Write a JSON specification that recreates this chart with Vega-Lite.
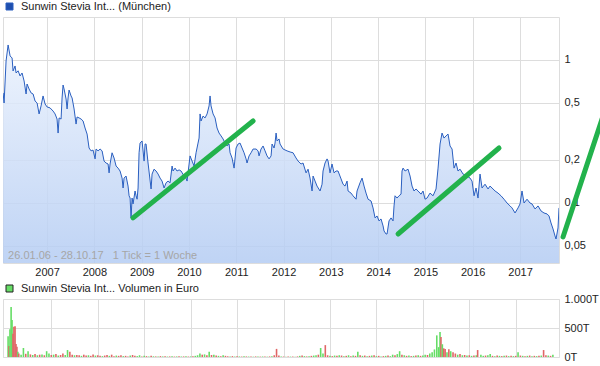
{
"$schema": "https://vega.github.io/schema/vega-lite/v6.json",
"padding": {"left": 2, "top": 0, "right": 0, "bottom": 0},
"background": "white",
"config": {
  "font": "Liberation Sans",
  "view": {"stroke": "#dddddd"},
  "axis": {"gridColor": "#dddddd", "labelFont": "Liberation Sans", "labelFontSize": 11, "labelColor": "#222222", "ticks": false, "domain": false, "title": null},
  "legend": {"labelFont": "Liberation Sans", "labelFontSize": 11, "labelColor": "#222222", "padding": 0, "labelOffset": 6, "symbolSize": 49, "symbolType": "square", "labelLimit": 0}
},
"datasets": {
"price": [
{"t":2006.070,"v":0.588},{"t":2006.091,"v":0.500},{"t":2006.133,"v":0.984},{"t":2006.176,"v":1.274},{"t":2006.218,"v":1.067},{"t":2006.260,"v":1.033},{"t":2006.281,"v":0.838},{"t":2006.323,"v":0.908},{"t":2006.345,"v":0.811},{"t":2006.387,"v":0.840},{"t":2006.429,"v":0.773},{"t":2006.471,"v":0.811},{"t":2006.514,"v":0.713},{"t":2006.556,"v":0.578},{"t":2006.577,"v":0.679},{"t":2006.619,"v":0.627},{"t":2006.662,"v":0.588},{"t":2006.704,"v":0.578},{"t":2006.746,"v":0.516},{"t":2006.789,"v":0.500},{"t":2006.831,"v":0.419},{"t":2006.873,"v":0.477},{"t":2006.915,"v":0.560},{"t":2006.958,"v":0.492},{"t":2007.000,"v":0.469},{"t":2007.063,"v":0.462},{"t":2007.127,"v":0.439},{"t":2007.169,"v":0.419},{"t":2007.211,"v":0.386},{"t":2007.233,"v":0.308},{"t":2007.254,"v":0.393},{"t":2007.296,"v":0.386},{"t":2007.317,"v":0.542},{"t":2007.338,"v":0.668},{"t":2007.359,"v":0.627},{"t":2007.402,"v":0.533},{"t":2007.423,"v":0.454},{"t":2007.444,"v":0.542},{"t":2007.465,"v":0.616},{"t":2007.507,"v":0.560},{"t":2007.529,"v":0.542},{"t":2007.571,"v":0.454},{"t":2007.613,"v":0.356},{"t":2007.634,"v":0.399},{"t":2007.677,"v":0.393},{"t":2007.719,"v":0.386},{"t":2007.761,"v":0.374},{"t":2007.803,"v":0.334},{"t":2007.846,"v":0.303},{"t":2007.888,"v":0.242},{"t":2007.930,"v":0.231},{"t":2007.972,"v":0.234},{"t":2008.015,"v":0.203},{"t":2008.036,"v":0.238},{"t":2008.078,"v":0.231},{"t":2008.121,"v":0.238},{"t":2008.163,"v":0.231},{"t":2008.205,"v":0.196},{"t":2008.247,"v":0.190},{"t":2008.290,"v":0.187},{"t":2008.311,"v":0.162},{"t":2008.332,"v":0.187},{"t":2008.374,"v":0.224},{"t":2008.416,"v":0.206},{"t":2008.459,"v":0.181},{"t":2008.501,"v":0.175},{"t":2008.543,"v":0.167},{"t":2008.586,"v":0.149},{"t":2008.607,"v":0.127},{"t":2008.628,"v":0.149},{"t":2008.670,"v":0.154},{"t":2008.712,"v":0.131},{"t":2008.734,"v":0.112},{"t":2008.755,"v":0.108},{"t":2008.776,"v":0.0784},{"t":2008.797,"v":0.108},{"t":2008.818,"v":0.0982},{"t":2008.860,"v":0.121},{"t":2008.882,"v":0.112},{"t":2008.903,"v":0.106},{"t":2008.924,"v":0.127},{"t":2008.945,"v":0.224},{"t":2008.966,"v":0.262},{"t":2009.008,"v":0.271},{"t":2009.051,"v":0.196},{"t":2009.072,"v":0.258},{"t":2009.093,"v":0.258},{"t":2009.135,"v":0.190},{"t":2009.199,"v":0.125},{"t":2009.220,"v":0.159},{"t":2009.262,"v":0.172},{"t":2009.304,"v":0.167},{"t":2009.347,"v":0.159},{"t":2009.389,"v":0.149},{"t":2009.431,"v":0.142},{"t":2009.474,"v":0.127},{"t":2009.516,"v":0.138},{"t":2009.558,"v":0.142},{"t":2009.600,"v":0.138},{"t":2009.643,"v":0.181},{"t":2009.664,"v":0.167},{"t":2009.706,"v":0.175},{"t":2009.748,"v":0.167},{"t":2009.791,"v":0.170},{"t":2009.833,"v":0.167},{"t":2009.896,"v":0.154},{"t":2009.939,"v":0.149},{"t":2009.960,"v":0.142},{"t":2010.023,"v":0.213},{"t":2010.066,"v":0.196},{"t":2010.108,"v":0.181},{"t":2010.150,"v":0.224},{"t":2010.192,"v":0.262},{"t":2010.214,"v":0.284},{"t":2010.235,"v":0.419},{"t":2010.256,"v":0.374},{"t":2010.298,"v":0.405},{"t":2010.340,"v":0.393},{"t":2010.383,"v":0.419},{"t":2010.425,"v":0.477},{"t":2010.446,"v":0.560},{"t":2010.467,"v":0.477},{"t":2010.510,"v":0.419},{"t":2010.552,"v":0.393},{"t":2010.594,"v":0.334},{"t":2010.636,"v":0.308},{"t":2010.679,"v":0.294},{"t":2010.721,"v":0.280},{"t":2010.763,"v":0.262},{"t":2010.806,"v":0.250},{"t":2010.848,"v":0.258},{"t":2010.869,"v":0.224},{"t":2010.911,"v":0.206},{"t":2010.954,"v":0.175},{"t":2010.996,"v":0.242},{"t":2011.038,"v":0.258},{"t":2011.080,"v":0.262},{"t":2011.123,"v":0.242},{"t":2011.165,"v":0.224},{"t":2011.207,"v":0.203},{"t":2011.228,"v":0.190},{"t":2011.271,"v":0.213},{"t":2011.313,"v":0.224},{"t":2011.355,"v":0.238},{"t":2011.419,"v":0.238},{"t":2011.461,"v":0.231},{"t":2011.482,"v":0.213},{"t":2011.524,"v":0.238},{"t":2011.567,"v":0.250},{"t":2011.609,"v":0.231},{"t":2011.651,"v":0.213},{"t":2011.694,"v":0.203},{"t":2011.736,"v":0.213},{"t":2011.757,"v":0.258},{"t":2011.799,"v":0.242},{"t":2011.820,"v":0.262},{"t":2011.842,"v":0.308},{"t":2011.863,"v":0.271},{"t":2011.905,"v":0.280},{"t":2011.926,"v":0.258},{"t":2011.990,"v":0.238},{"t":2012.074,"v":0.231},{"t":2012.138,"v":0.227},{"t":2012.201,"v":0.224},{"t":2012.264,"v":0.206},{"t":2012.307,"v":0.196},{"t":2012.370,"v":0.187},{"t":2012.412,"v":0.190},{"t":2012.476,"v":0.162},{"t":2012.518,"v":0.172},{"t":2012.560,"v":0.149},{"t":2012.603,"v":0.121},{"t":2012.624,"v":0.154},{"t":2012.666,"v":0.142},{"t":2012.708,"v":0.131},{"t":2012.772,"v":0.121},{"t":2012.814,"v":0.135},{"t":2012.835,"v":0.167},{"t":2012.877,"v":0.190},{"t":2012.920,"v":0.203},{"t":2012.941,"v":0.196},{"t":2012.983,"v":0.162},{"t":2013.025,"v":0.187},{"t":2013.068,"v":0.162},{"t":2013.110,"v":0.167},{"t":2013.152,"v":0.167},{"t":2013.216,"v":0.147},{"t":2013.258,"v":0.135},{"t":2013.300,"v":0.131},{"t":2013.343,"v":0.142},{"t":2013.364,"v":0.121},{"t":2013.427,"v":0.117},{"t":2013.469,"v":0.112},{"t":2013.533,"v":0.106},{"t":2013.554,"v":0.121},{"t":2013.617,"v":0.138},{"t":2013.660,"v":0.149},{"t":2013.702,"v":0.131},{"t":2013.744,"v":0.117},{"t":2013.787,"v":0.106},{"t":2013.850,"v":0.103},{"t":2013.892,"v":0.0921},{"t":2013.935,"v":0.0784},{"t":2013.977,"v":0.0809},{"t":2014.019,"v":0.0747},{"t":2014.061,"v":0.0771},{"t":2014.104,"v":0.0689},{"t":2014.125,"v":0.0635},{"t":2014.167,"v":0.0605},{"t":2014.188,"v":0.0605},{"t":2014.230,"v":0.0747},{"t":2014.273,"v":0.0784},{"t":2014.315,"v":0.0747},{"t":2014.336,"v":0.0951},{"t":2014.357,"v":0.112},{"t":2014.400,"v":0.108},{"t":2014.442,"v":0.112},{"t":2014.484,"v":0.115},{"t":2014.505,"v":0.167},{"t":2014.527,"v":0.175},{"t":2014.569,"v":0.167},{"t":2014.632,"v":0.172},{"t":2014.675,"v":0.154},{"t":2014.717,"v":0.131},{"t":2014.759,"v":0.121},{"t":2014.801,"v":0.125},{"t":2014.844,"v":0.121},{"t":2014.907,"v":0.115},{"t":2014.949,"v":0.121},{"t":2014.992,"v":0.106},{"t":2015.034,"v":0.108},{"t":2015.097,"v":0.117},{"t":2015.161,"v":0.112},{"t":2015.224,"v":0.125},{"t":2015.267,"v":0.175},{"t":2015.309,"v":0.258},{"t":2015.351,"v":0.308},{"t":2015.393,"v":0.284},{"t":2015.436,"v":0.294},{"t":2015.478,"v":0.303},{"t":2015.520,"v":0.250},{"t":2015.563,"v":0.238},{"t":2015.605,"v":0.175},{"t":2015.647,"v":0.190},{"t":2015.689,"v":0.167},{"t":2015.732,"v":0.172},{"t":2015.795,"v":0.159},{"t":2015.880,"v":0.154},{"t":2015.943,"v":0.149},{"t":2015.985,"v":0.142},{"t":2016.028,"v":0.112},{"t":2016.070,"v":0.127},{"t":2016.112,"v":0.108},{"t":2016.154,"v":0.159},{"t":2016.197,"v":0.127},{"t":2016.260,"v":0.135},{"t":2016.324,"v":0.125},{"t":2016.366,"v":0.131},{"t":2016.408,"v":0.127},{"t":2016.472,"v":0.121},{"t":2016.535,"v":0.117},{"t":2016.598,"v":0.112},{"t":2016.662,"v":0.106},{"t":2016.725,"v":0.0997},{"t":2016.789,"v":0.0951},{"t":2016.831,"v":0.0921},{"t":2016.894,"v":0.0849},{"t":2016.958,"v":0.0921},{"t":2017.000,"v":0.0982},{"t":2017.042,"v":0.121},{"t":2017.085,"v":0.0997},{"t":2017.148,"v":0.106},{"t":2017.211,"v":0.0997},{"t":2017.254,"v":0.0982},{"t":2017.317,"v":0.0906},{"t":2017.381,"v":0.0951},{"t":2017.444,"v":0.0877},{"t":2017.507,"v":0.0849},{"t":2017.571,"v":0.0836},{"t":2017.613,"v":0.0809},{"t":2017.655,"v":0.0723},{"t":2017.698,"v":0.0656},{"t":2017.740,"v":0.0586},{"t":2017.761,"v":0.0558},{"t":2017.803,"v":0.0667},{"t":2017.824,"v":0.0921}
],
"trend": [
{"seg":1,"t":2008.818,"v":0.0784},{"seg":1,"t":2011.355,"v":0.374},
{"seg":2,"t":2014.421,"v":0.0605},{"seg":2,"t":2016.556,"v":0.242},
{"seg":3,"t":2017.909,"v":0.0577},{"seg":3,"t":2018.734,"v":0.386}
],
"vol": [
{"t":2006.07,"v":357,"d":"u"},{"t":2006.09,"v":190,"d":"d"},{"t":2006.11,"v":480,"d":"u"},{"t":2006.135,"v":862,"d":"u"},{"t":2006.155,"v":640,"d":"u"},{"t":2006.175,"v":400,"d":"d"},{"t":2006.195,"v":520,"d":"d"},{"t":2006.22,"v":530,"d":"d"},{"t":2006.24,"v":225,"d":"d"},{"t":2006.26,"v":175,"d":"d"},{"t":2006.28,"v":90,"d":"u"},
{"t":2006.30,"v":60,"d":"d"},{"t":2006.35,"v":40,"d":"u"},{"t":2006.40,"v":155,"d":"u"},{"t":2006.45,"v":55,"d":"d"},{"t":2006.50,"v":100,"d":"u"},{"t":2006.55,"v":45,"d":"d"},{"t":2006.60,"v":35,"d":"u"},{"t":2006.65,"v":50,"d":"d"},{"t":2006.70,"v":30,"d":"u"},{"t":2006.75,"v":40,"d":"d"},{"t":2006.80,"v":45,"d":"u"},{"t":2006.85,"v":30,"d":"d"},{"t":2006.90,"v":100,"d":"u"},{"t":2006.95,"v":60,"d":"u"},
{"t":2007.00,"v":35,"d":"d"},{"t":2007.05,"v":40,"d":"u"},{"t":2007.10,"v":50,"d":"d"},{"t":2007.15,"v":25,"d":"u"},{"t":2007.20,"v":35,"d":"d"},{"t":2007.25,"v":60,"d":"d"},{"t":2007.30,"v":35,"d":"u"},{"t":2007.35,"v":120,"d":"u"},{"t":2007.40,"v":90,"d":"d"},{"t":2007.45,"v":40,"d":"d"},{"t":2007.50,"v":30,"d":"u"},{"t":2007.55,"v":35,"d":"d"},{"t":2007.60,"v":30,"d":"d"},{"t":2007.65,"v":20,"d":"u"},{"t":2007.70,"v":40,"d":"d"},{"t":2007.75,"v":25,"d":"d"},{"t":2007.80,"v":30,"d":"u"},{"t":2007.85,"v":20,"d":"d"},{"t":2007.90,"v":45,"d":"d"},{"t":2007.95,"v":25,"d":"u"},
{"t":2008.00,"v":30,"d":"d"},{"t":2008.05,"v":20,"d":"d"},{"t":2008.10,"v":15,"d":"u"},{"t":2008.15,"v":25,"d":"d"},{"t":2008.20,"v":35,"d":"d"},{"t":2008.25,"v":20,"d":"u"},{"t":2008.30,"v":40,"d":"d"},{"t":2008.35,"v":15,"d":"d"},{"t":2008.40,"v":25,"d":"u"},{"t":2008.45,"v":20,"d":"d"},{"t":2008.50,"v":30,"d":"d"},{"t":2008.55,"v":15,"d":"u"},{"t":2008.60,"v":20,"d":"d"},{"t":2008.65,"v":10,"d":"d"},{"t":2008.70,"v":25,"d":"u"},{"t":2008.75,"v":35,"d":"d"},{"t":2008.80,"v":20,"d":"d"},{"t":2008.85,"v":15,"d":"u"},{"t":2008.90,"v":30,"d":"u"},{"t":2008.95,"v":10,"d":"d"},
{"t":2009.00,"v":20,"d":"u"},{"t":2009.05,"v":15,"d":"d"},{"t":2009.10,"v":10,"d":"u"},{"t":2009.15,"v":20,"d":"d"},{"t":2009.20,"v":12,"d":"u"},{"t":2009.25,"v":10,"d":"d"},{"t":2009.30,"v":8,"d":"u"},{"t":2009.35,"v":15,"d":"d"},{"t":2009.40,"v":10,"d":"u"},{"t":2009.45,"v":12,"d":"d"},{"t":2009.50,"v":8,"d":"u"},{"t":2009.55,"v":10,"d":"d"},{"t":2009.60,"v":12,"d":"u"},{"t":2009.65,"v":8,"d":"d"},{"t":2009.70,"v":10,"d":"u"},{"t":2009.75,"v":14,"d":"d"},{"t":2009.80,"v":9,"d":"u"},{"t":2009.85,"v":10,"d":"d"},{"t":2009.90,"v":12,"d":"u"},{"t":2009.95,"v":8,"d":"d"},
{"t":2010.00,"v":10,"d":"u"},{"t":2010.05,"v":14,"d":"d"},{"t":2010.10,"v":20,"d":"u"},{"t":2010.15,"v":30,"d":"u"},{"t":2010.20,"v":60,"d":"u"},{"t":2010.25,"v":40,"d":"d"},{"t":2010.30,"v":45,"d":"u"},{"t":2010.35,"v":30,"d":"d"},{"t":2010.40,"v":90,"d":"u"},{"t":2010.45,"v":35,"d":"d"},{"t":2010.50,"v":40,"d":"u"},{"t":2010.55,"v":25,"d":"d"},{"t":2010.60,"v":20,"d":"u"},{"t":2010.65,"v":15,"d":"d"},{"t":2010.70,"v":30,"d":"u"},{"t":2010.75,"v":20,"d":"d"},{"t":2010.80,"v":12,"d":"d"},{"t":2010.85,"v":10,"d":"u"},{"t":2010.90,"v":15,"d":"d"},{"t":2010.95,"v":8,"d":"u"},
{"t":2011.00,"v":12,"d":"d"},{"t":2011.05,"v":10,"d":"u"},{"t":2011.10,"v":8,"d":"d"},{"t":2011.15,"v":12,"d":"u"},{"t":2011.20,"v":10,"d":"d"},{"t":2011.25,"v":8,"d":"u"},{"t":2011.30,"v":9,"d":"d"},{"t":2011.35,"v":6,"d":"u"},{"t":2011.40,"v":10,"d":"d"},{"t":2011.45,"v":8,"d":"u"},{"t":2011.50,"v":7,"d":"d"},{"t":2011.55,"v":9,"d":"u"},{"t":2011.60,"v":8,"d":"d"},{"t":2011.65,"v":6,"d":"u"},{"t":2011.70,"v":10,"d":"d"},{"t":2011.75,"v":12,"d":"u"},{"t":2011.80,"v":30,"d":"d"},{"t":2011.85,"v":140,"d":"d"},{"t":2011.90,"v":25,"d":"d"},{"t":2011.95,"v":10,"d":"u"},
{"t":2012.00,"v":8,"d":"d"},{"t":2012.05,"v":6,"d":"u"},{"t":2012.10,"v":9,"d":"d"},{"t":2012.15,"v":7,"d":"u"},{"t":2012.20,"v":8,"d":"d"},{"t":2012.25,"v":6,"d":"u"},{"t":2012.30,"v":10,"d":"d"},{"t":2012.35,"v":20,"d":"u"},{"t":2012.40,"v":25,"d":"d"},{"t":2012.45,"v":15,"d":"u"},{"t":2012.50,"v":10,"d":"d"},{"t":2012.55,"v":12,"d":"u"},{"t":2012.60,"v":20,"d":"d"},{"t":2012.65,"v":25,"d":"u"},{"t":2012.70,"v":30,"d":"u"},{"t":2012.75,"v":40,"d":"d"},{"t":2012.80,"v":155,"d":"u"},{"t":2012.85,"v":60,"d":"u"},{"t":2012.90,"v":205,"d":"d"},{"t":2012.95,"v":30,"d":"d"},
{"t":2013.00,"v":20,"d":"u"},{"t":2013.05,"v":15,"d":"d"},{"t":2013.10,"v":25,"d":"u"},{"t":2013.15,"v":20,"d":"d"},{"t":2013.20,"v":30,"d":"u"},{"t":2013.25,"v":25,"d":"d"},{"t":2013.30,"v":15,"d":"u"},{"t":2013.35,"v":20,"d":"d"},{"t":2013.40,"v":30,"d":"u"},{"t":2013.45,"v":15,"d":"d"},{"t":2013.50,"v":25,"d":"u"},{"t":2013.55,"v":20,"d":"d"},{"t":2013.60,"v":90,"d":"u"},{"t":2013.65,"v":30,"d":"d"},{"t":2013.70,"v":20,"d":"u"},{"t":2013.75,"v":25,"d":"d"},{"t":2013.80,"v":15,"d":"u"},{"t":2013.85,"v":20,"d":"d"},{"t":2013.90,"v":25,"d":"u"},{"t":2013.95,"v":30,"d":"d"},
{"t":2014.00,"v":15,"d":"u"},{"t":2014.05,"v":20,"d":"d"},{"t":2014.10,"v":10,"d":"u"},{"t":2014.15,"v":15,"d":"d"},{"t":2014.20,"v":20,"d":"u"},{"t":2014.25,"v":25,"d":"d"},{"t":2014.30,"v":15,"d":"u"},{"t":2014.35,"v":40,"d":"u"},{"t":2014.40,"v":30,"d":"d"},{"t":2014.45,"v":50,"d":"u"},{"t":2014.50,"v":100,"d":"u"},{"t":2014.55,"v":40,"d":"d"},{"t":2014.60,"v":30,"d":"u"},{"t":2014.65,"v":20,"d":"d"},{"t":2014.70,"v":25,"d":"u"},{"t":2014.75,"v":15,"d":"d"},{"t":2014.80,"v":20,"d":"u"},{"t":2014.85,"v":25,"d":"d"},{"t":2014.90,"v":30,"d":"u"},{"t":2014.95,"v":20,"d":"d"},
{"t":2015.00,"v":25,"d":"u"},{"t":2015.05,"v":40,"d":"u"},{"t":2015.10,"v":35,"d":"d"},{"t":2015.15,"v":60,"d":"u"},{"t":2015.20,"v":80,"d":"u"},{"t":2015.25,"v":130,"d":"u"},{"t":2015.30,"v":373,"d":"u"},{"t":2015.34,"v":170,"d":"u"},{"t":2015.37,"v":430,"d":"u"},{"t":2015.39,"v":345,"d":"d"},{"t":2015.42,"v":220,"d":"u"},{"t":2015.45,"v":150,"d":"d"},{"t":2015.48,"v":140,"d":"d"},{"t":2015.52,"v":80,"d":"u"},{"t":2015.56,"v":135,"d":"d"},{"t":2015.60,"v":100,"d":"u"},{"t":2015.65,"v":80,"d":"d"},{"t":2015.70,"v":60,"d":"d"},{"t":2015.75,"v":40,"d":"u"},{"t":2015.80,"v":50,"d":"d"},{"t":2015.85,"v":30,"d":"u"},{"t":2015.90,"v":35,"d":"d"},{"t":2015.95,"v":25,"d":"u"},
{"t":2016.00,"v":30,"d":"d"},{"t":2016.05,"v":20,"d":"u"},{"t":2016.10,"v":25,"d":"d"},{"t":2016.15,"v":30,"d":"u"},{"t":2016.18,"v":120,"d":"d"},{"t":2016.25,"v":40,"d":"u"},{"t":2016.30,"v":20,"d":"u"},{"t":2016.35,"v":25,"d":"d"},{"t":2016.40,"v":30,"d":"u"},{"t":2016.45,"v":50,"d":"u"},{"t":2016.50,"v":20,"d":"d"},{"t":2016.55,"v":15,"d":"u"},{"t":2016.60,"v":25,"d":"d"},{"t":2016.65,"v":20,"d":"u"},{"t":2016.70,"v":15,"d":"d"},{"t":2016.75,"v":20,"d":"u"},{"t":2016.80,"v":25,"d":"d"},{"t":2016.85,"v":15,"d":"u"},{"t":2016.90,"v":20,"d":"d"},{"t":2016.95,"v":15,"d":"u"},
{"t":2017.00,"v":20,"d":"d"},{"t":2017.05,"v":80,"d":"u"},{"t":2017.10,"v":25,"d":"d"},{"t":2017.15,"v":20,"d":"u"},{"t":2017.20,"v":15,"d":"d"},{"t":2017.25,"v":20,"d":"u"},{"t":2017.30,"v":25,"d":"d"},{"t":2017.35,"v":15,"d":"u"},{"t":2017.40,"v":20,"d":"d"},{"t":2017.45,"v":15,"d":"u"},{"t":2017.50,"v":20,"d":"d"},{"t":2017.55,"v":25,"d":"u"},{"t":2017.60,"v":120,"d":"d"},{"t":2017.65,"v":30,"d":"d"},{"t":2017.70,"v":25,"d":"u"},{"t":2017.75,"v":20,"d":"d"},{"t":2017.80,"v":40,"d":"u"}
]
},
"bounds": "flush",
"spacing": 36,
"resolve": {"scale": {"color": "independent"}, "legend": {"color": "independent"}},
"vconcat": [
{
  "width": 556,
  "height": 246,
  "layer": [
    {
      "data": {"name": "price"},
      "mark": {"type": "area", "clip": true, "fillOpacity": 0.85, "color": {"gradient": "linear", "x1": 0, "y1": 0, "x2": 0, "y2": 1, "stops": [{"offset": 0, "color": "#ebf2fd"}, {"offset": 1, "color": "#b4ccf3"}]}},
      "encoding": {
        "x": {"field": "t", "type": "quantitative", "scale": {"domain": [2006.068, 2017.824], "nice": false, "zero": false},
              "axis": {"values": [2007, 2008, 2009, 2010, 2011, 2012, 2013, 2014, 2015, 2016, 2017], "format": "d", "grid": true, "labelPadding": 3, "labelFlush": false}},
        "y": {"field": "v", "type": "quantitative", "scale": {"type": "log", "domain": [0.0379, 2], "nice": false},
              "axis": {"orient": "right", "values": [0.05, 0.1, 0.2, 0.5, 1], "labelExpr": "replace(toString(datum.value), '.', ',')", "grid": true, "labelPadding": 5}},
        "y2": {"datum": 0.0379}
      }
    },
    {
      "data": {"name": "price"},
      "mark": {"type": "line", "strokeWidth": 1, "clip": true},
      "encoding": {
        "x": {"field": "t", "type": "quantitative"},
        "y": {"field": "v", "type": "quantitative"},
        "color": {"datum": "Sunwin Stevia Int... (München)", "scale": {"range": ["#2a5fc0"]},
                  "legend": {"title": null, "orient": "none", "legendX": 1, "legendY": -16, "symbolType": "square",
                             "encode": {"symbols": {"update": {"fill": {"value": "#1f4fae"}, "stroke": {"value": "#222222"}, "strokeWidth": {"value": 1}, "opacity": {"value": 1}}}}}}
      }
    },
    {
      "data": {"name": "trend"},
      "mark": {"type": "line", "color": "#22b24c", "strokeWidth": 5, "strokeCap": "round", "clip": false},
      "encoding": {
        "x": {"field": "t", "type": "quantitative"},
        "y": {"field": "v", "type": "quantitative"},
        "detail": {"field": "seg", "type": "nominal"}
      }
    },
    {
      "data": {"values": [{}]},
      "mark": {"type": "text", "align": "left", "baseline": "middle", "fontSize": 11, "color": "#a6a6a6"},
      "encoding": {
        "x": {"datum": 2006.176},
        "y": {"datum": 0.0424},
        "text": {"value": "26.01.06 - 28.10.17 \u00a0 1 Tick = 1 Woche"}
      }
    }
  ]
},
{
  "width": 556,
  "height": 58,
  "data": {"name": "vol"},
  "mark": {"type": "bar", "size": 1.6},
  "encoding": {
    "x": {"field": "t", "type": "quantitative", "scale": {"domain": [2006.068, 2017.824], "nice": false, "zero": false},
          "axis": {"values": [2007, 2008, 2009, 2010, 2011, 2012, 2013, 2014, 2015, 2016, 2017], "labels": false, "grid": true}},
    "y": {"field": "v", "type": "quantitative", "scale": {"domain": [0, 1000], "nice": false},
          "axis": {"orient": "right", "values": [0, 500, 1000], "labelExpr": "datum.value == 1000 ? '1.000T' : datum.value + 'T'", "grid": true, "labelPadding": 5}},
    "color": {"field": "d", "type": "nominal", "scale": {"domain": ["u", "d"], "range": ["#66dd66", "#e06666"]},
              "legend": {"values": ["u"], "labelExpr": "'Sunwin Stevia Int... Volumen in Euro'", "title": null, "orient": "none", "legendX": 1, "legendY": -16, "labelLimit": 0,
                         "encode": {"symbols": {"update": {"fill": {"value": "#66dd66"}, "stroke": {"value": "#222222"}, "strokeWidth": {"value": 1}, "opacity": {"value": 1}}}}}}
  }
}
]
}
